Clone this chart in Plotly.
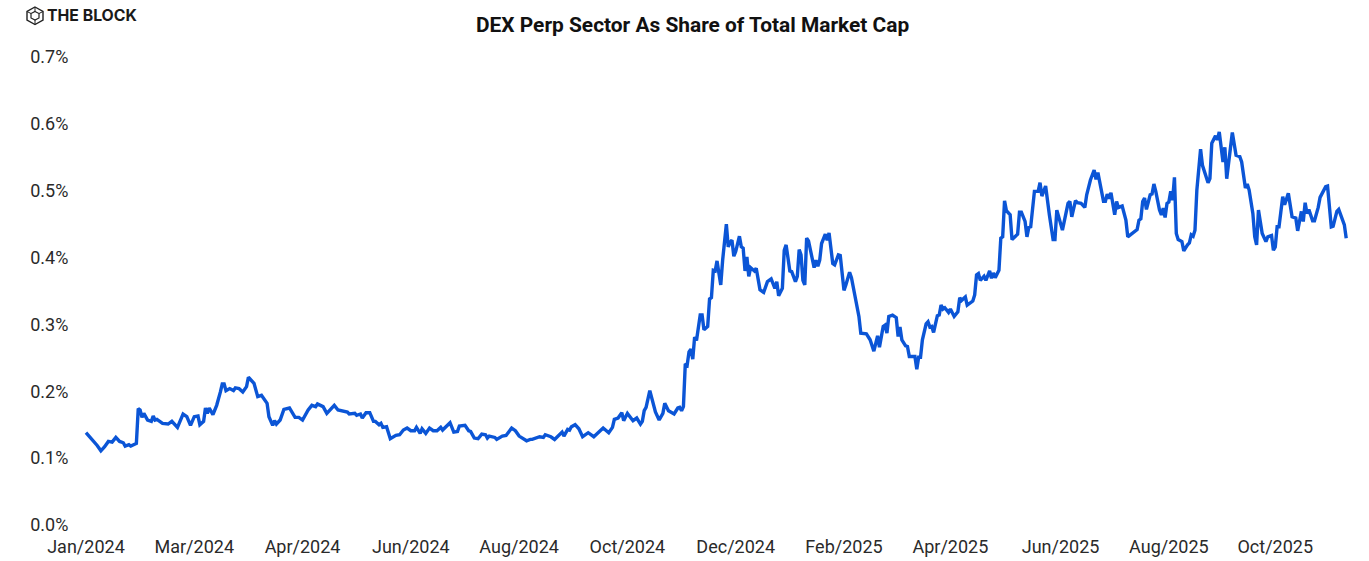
import pandas as pd
import plotly.graph_objects as go

START = "2024-01-04"
TITLE = "DEX Perp Sector As Share of Total Market Cap"
BRAND = "THE BLOCK"

tick_dates = ["2024-01-04","2024-03-02","2024-04-29","2024-06-26","2024-08-23","2024-10-20",
              "2024-12-17","2025-02-13","2025-04-11","2025-06-09","2025-08-06","2025-10-02"]
tick_labels = ["Jan/2024","Mar/2024","Apr/2024","Jun/2024","Aug/2024","Oct/2024",
               "Dec/2024","Feb/2025","Apr/2025","Jun/2025","Aug/2025","Oct/2025"]
y_ticks = [0, 0.1, 0.2, 0.3, 0.4, 0.5, 0.6, 0.7]
y_labels = ["0.0%","0.1%","0.2%","0.3%","0.4%","0.5%","0.6%","0.7%"]

days_2024a = [0,1,3,4,6,8,10,12,14,16,18,20,21,23,24,27,28,29,30,31,33,35,36,37,38,41,44,46,49,52,54,56,58,60,61,63,64,65,66,68,70,72,73,74,75,77,79,80,82,84,86,87,89,90,92,94,97,98,100,101,102,104,106,109,112,114,116,119,121,123,124,127,129,133,135,140,141,144,145,147,148,150,152,154,155,157,158,159,161,163,166,168]
vals_2024a = [.138,.135,.128,.125,.119,.111,.117,.125,.124,.131,.125,.123,.118,.120,.118,.122,.174,.172,.161,.167,.157,.155,.163,.157,.158,.152,.151,.155,.146,.166,.162,.149,.162,.163,.150,.155,.175,.167,.175,.165,.179,.199,.211,.211,.201,.204,.201,.205,.204,.199,.207,.221,.215,.212,.192,.194,.182,.162,.149,.156,.151,.157,.173,.175,.161,.161,.157,.172,.179,.177,.181,.177,.167,.179,.172,.169,.166,.167,.164,.166,.160,.168,.168,.155,.155,.150,.152,.146,.147,.129,.134,.135]

days_2024b = [170,172,174,176,177,179,180,182,184,186,188,190,191,195,197,199,200,203,205,206,208,210,212,214,215,216,219,220,223,225,228,230,232,236,238,239,243,245,246,249,251,253,255,256,258,259,260,262,264,266,269,272,275,277,280,282,283,285,287,288,290,293,295,297,298,299,300,302,305,307,309,310,312,315,317,318,319]
vals_2024b = [.142,.145,.141,.141,.146,.137,.144,.137,.145,.141,.141,.146,.142,.153,.139,.140,.148,.149,.141,.140,.130,.129,.136,.135,.130,.133,.131,.128,.133,.134,.145,.141,.133,.126,.128,.128,.132,.131,.135,.132,.128,.134,.139,.133,.143,.142,.147,.150,.144,.132,.138,.132,.140,.145,.138,.146,.158,.160,.168,.156,.167,.156,.160,.151,.155,.171,.176,.201,.169,.157,.167,.182,.171,.166,.175,.176,.171]

days_mid = [320,321,322,323,324,325,326,327,328,329,330,331,333,334,335,336,337,338,340,341,343,344,345,346,347,348,350,351,352,353,354,355,356,358,359,361,363,365,367,369,370,371,373,374,375,377,378,380,381,382,383,384,385,386,387,390,391,392,393,394,396,397,398,400,401,403,404,406,407,409,410,412,414,415,418,420,422,424,425,427,428,429,430,432,434,435,436,437,439,440,441,444,445,446,447,448,450,451,452,453,454,456,457,458,459,460,462,463,465,467,468,469,471,472,475,476,477,478,479,481,482,484,485,486,487,489]
vals_mid = [.177,.241,.239,.259,.263,.248,.281,.276,.297,.314,.314,.292,.297,.338,.340,.381,.380,.395,.359,.396,.450,.416,.423,.426,.402,.409,.432,.416,.414,.380,.401,.372,.385,.380,.384,.352,.348,.364,.368,.354,.364,.343,.354,.411,.419,.380,.379,.364,.372,.412,.404,.366,.359,.429,.425,.385,.396,.387,.396,.421,.435,.426,.437,.391,.389,.404,.403,.351,.359,.378,.370,.341,.312,.287,.286,.277,.260,.283,.266,.297,.299,.287,.312,.314,.310,.282,.296,.277,.268,.267,.252,.252,.233,.251,.251,.277,.301,.304,.296,.297,.288,.313,.314,.329,.323,.325,.318,.323,.312,.319,.340,.336,.341,.329,.335,.344,.374,.376,.366,.372,.366,.380,.369,.377,.370,.381]

days_2025 = [490,491,492,493,495,496,499,500,501,503,504,505,506,508,510,511,512,514,515,516,518,519,520,523,526,527,528,530,531,533,535,536,538,540,541,542,545,546,547,548,549,551,552,553,555,557,558,562,563,564,565,566,567,568,570,571,572,573,575,576,577,578,579,580,581,582,583,584,585,587,588,590,591,592,593,594,595,597,598,601,602,603,605,606,607,609,610,611,613,614,616,618,619,621,622,623,625,626,627,628,630,632,633,635,636,637,638,639,641,642,644,646,648,649,651,652,653,654,655,657,658,660,661,664,665,667,668,670,671,673,674,675]
vals_2025 = [.429,.431,.485,.470,.464,.427,.435,.468,.468,.454,.431,.445,.446,.499,.499,.512,.492,.507,.484,.464,.427,.427,.471,.441,.481,.484,.461,.485,.482,.481,.475,.494,.516,.531,.517,.527,.484,.484,.495,.488,.497,.464,.484,.475,.477,.456,.431,.441,.442,.456,.458,.484,.489,.472,.494,.495,.510,.499,.471,.464,.474,.460,.481,.483,.499,.486,.520,.436,.427,.424,.410,.419,.422,.434,.432,.441,.501,.562,.538,.512,.518,.571,.582,.576,.588,.543,.565,.518,.571,.587,.553,.551,.543,.504,.510,.501,.466,.431,.419,.471,.436,.424,.431,.433,.411,.416,.446,.446,.491,.479,.496,.461,.459,.440,.469,.454,.482,.466,.472,.455,.455,.475,.490,.506,.507,.446,.447,.469,.472,.454,.449,.429]

days = days_2024a + days_2024b + days_mid + days_2025
values = vals_2024a + vals_2024b + vals_mid + vals_2025
start = pd.Timestamp(START)
dates = [start + pd.Timedelta(days=d) for d in days]

W, H = 1369, 561
L, R, T, B = 80, 17, 57, 36
def px(x): return (x - L) / (W - L - R)
def py(y): return 1 - (y - T) / (H - T - B)

fig = go.Figure(go.Scatter(x=dates, y=values, mode="lines",
                           line=dict(color="#0B55D6", width=3.4, shape="linear"),
                           hoverinfo="skip"))

hexa = [(35,7),(43,11.5),(43,20),(35,24.5),(27,20),(27,11.5)]
inner = [(35,11.5),(39,13.5),(39,18),(35,20),(31,18),(31,13.5)]
def path(pts):
    return "M " + " L ".join(f"{px(a):.5f},{py(b):.5f}" for a, b in pts) + " Z"
shapes = [dict(type="path", xref="paper", yref="paper", path=path(hexa),
               line=dict(color="#222", width=1.4)),
          dict(type="path", xref="paper", yref="paper", path=path(inner),
               line=dict(color="#222", width=1.2))]
for a, b, c, d in [(27,11.5,31,13.5),(43,11.5,39,13.5),(35,24.5,35,20),(35,7,35,11.5)]:
    shapes.append(dict(type="line", xref="paper", yref="paper", x0=px(a), y0=py(b), x1=px(c), y1=py(d),
                       line=dict(color="#222", width=1)))

fig.update_layout(
    width=W, height=H, autosize=False,
    margin=dict(l=L, r=R, t=T, b=B, pad=0),
    plot_bgcolor="white", paper_bgcolor="white",
    showlegend=False, shapes=shapes,
    font=dict(family="Roboto", color="#2a2a2a", size=18),
    annotations=[
        dict(text=f"<b>{TITLE}</b>", x=px(692.5), y=py(25), xref="paper", yref="paper", showarrow=False,
             xanchor="center", yanchor="middle", font=dict(family="Roboto", size=20.9, color="#111111")),
        dict(text=f"<b>{BRAND}</b>", x=px(45), y=py(15.5), xref="paper", yref="paper", showarrow=False,
             xanchor="left", yanchor="middle", font=dict(family="Inter", size=15.8, color="#1a1a1a")),
    ],
    xaxis=dict(type="date", automargin=False, range=[start + pd.Timedelta(days=-3.2), start + pd.Timedelta(days=678.1)],
               tickmode="array", tickvals=tick_dates, ticktext=tick_labels,
               showgrid=False, zeroline=False, showline=False, ticks="outside", ticklen=5, tickcolor="white",
               tickangle=0),
    yaxis=dict(automargin=False, range=[0, 0.7], tickmode="array", tickvals=y_ticks, ticktext=y_labels,
               showgrid=False, zeroline=False, showline=False, ticks="outside", ticklen=7, tickcolor="white"),
)
fig.write_html("out.html", config=dict(displayModeBar=False),
               post_script="document.body.style.margin='0';document.body.style.overflow='hidden';")
